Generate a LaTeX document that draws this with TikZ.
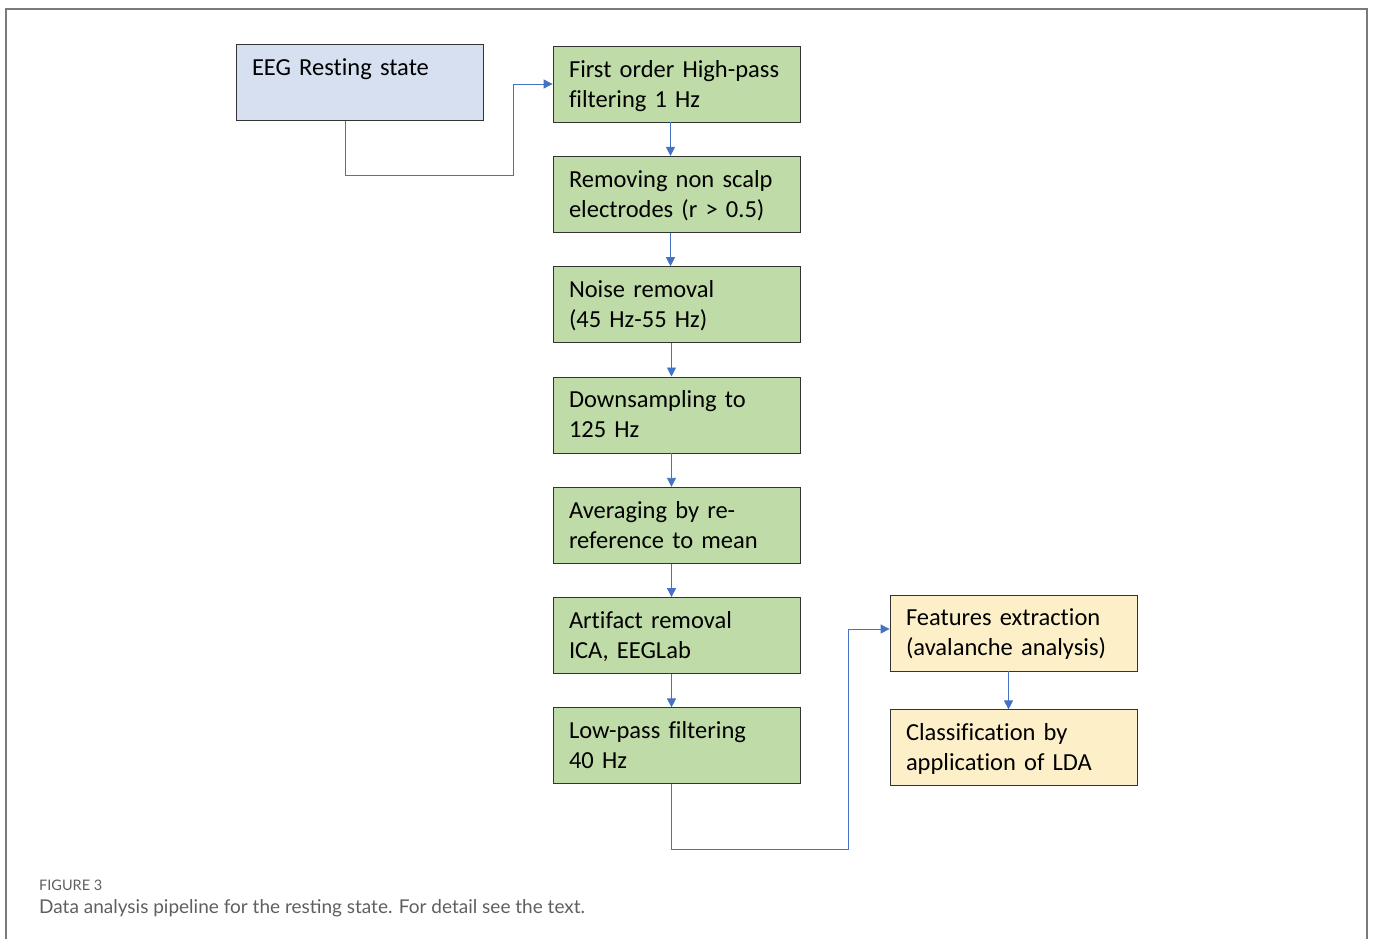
\documentclass[tikz,border=0pt]{standalone}
\usepackage{fontspec}
\setmainfont{Carlito}[Ligatures=NoCommon, WordSpace=0.85]
\newfontfamily\capfont{Lato}
\usepackage{tikz}
\usetikzlibrary{arrows.meta,positioning}
\definecolor{eegblue}{HTML}{D7E0F1}
\definecolor{stepgreen}{HTML}{BFDCA8}
\definecolor{featyellow}{HTML}{FDF0C8}
\definecolor{linkblue}{HTML}{4472C4}
\definecolor{framegray}{HTML}{7A7A7A}
\definecolor{capgray}{HTML}{5F5F5F}

\begin{document}
\begin{tikzpicture}[x=1pt, y=-1pt,
  node distance=33.5pt and 89pt,
  box/.style={draw=black!80, line width=0.8pt, align=left, text width=215pt,
    minimum width=247pt, minimum height=76pt, inner xsep=16pt, text depth=31pt,
    font=\fontsize{24.5}{30}\selectfont},
  src/.style={box, fill=eegblue},
  proc/.style={box, fill=stepgreen},
  res/.style={box, fill=featyellow},
  arr/.style={-{Triangle[length=9pt,width=9pt]}, draw=linkblue, line width=0.9pt}]
\useasboundingbox (0,0) rectangle (1373,938);
\draw[framegray, line width=2pt] (6,945) -- (6,9) -- (1367,9) -- (1367,945);
\node[src] (eeg) at (359.5,82.5) {EEG Resting state\\\mbox{}};
\node[proc] (hp) at (676.5,84) {First order High-pass\\filtering 1 Hz};
\node[proc, below=of hp] (scalp) {Removing non scalp\\electrodes (r > 0.5)};
\node[proc, below=of scalp] (noise) {Noise removal\\(45 Hz-55 Hz)};
\node[proc, below=of noise] (down) {Downsampling to\\125 Hz};
\node[proc, below=of down] (reref) {Averaging by re-\\reference to mean};
\node[proc, below=of reref] (art) {Artifact removal\\ICA, EEGLab};
\node[proc, below=of art] (lp) {Low-pass filtering\\40 Hz};
\node[res] (feat) at (1013.5,633) {Features extraction\\(avalanche analysis)};
\node[res, below=38pt of feat] (cls) {Classification by\\application of LDA};
\draw[arr] ([xshift=-14pt]eeg.south) |- ++(168,55) |- (hp.west);
\draw[arr] ([xshift=-6pt]hp.south) -- ([xshift=-6pt]scalp.north);
\draw[arr] ([xshift=-6pt]scalp.south) -- ([xshift=-6pt]noise.north);
\draw[arr] ([xshift=-5pt]noise.south) -- ([xshift=-5pt]down.north);
\draw[arr] ([xshift=-5pt]down.south) -- ([xshift=-5pt]reref.north);
\draw[arr] ([xshift=-5pt]reref.south) -- ([xshift=-5pt]art.north);
\draw[arr] ([xshift=-5pt]art.south) -- ([xshift=-5pt]lp.north);
\draw[arr] ([xshift=-5pt]lp.south) |- ++(177,65) |- ([yshift=4pt]feat.west);
\draw[arr] ([xshift=-5pt]feat.south) -- ([xshift=-5pt]cls.north);
% caption
\node[anchor=base west, inner sep=0pt, font=\capfont\fontsize{14.5}{16}\selectfont, text=capgray] (fig) at (39,890) {FIGURE 3};
\node[anchor=base west, inner sep=0pt, font=\capfont\fontsize{19}{22}\selectfont, text=capgray] (cap) at (39,913) {Data analysis pipeline for the resting state. For detail see the text.};
\end{tikzpicture}
\end{document}
